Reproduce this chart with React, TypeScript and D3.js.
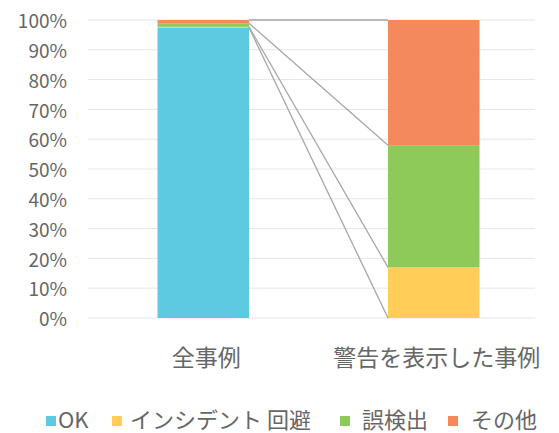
import React from "react";
import * as d3 from "d3";

const categories = ["全事例", "警告を表示した事例"];
const seriesNames = ["OK", "インシデント 回避", "誤検出", "その他"];
const okValues = [97.5, 0];
const avoidValues = [0.2, 17];
const falseValues = [1.2, 41];
const otherValues = [1.1, 42];
const yTicks = [0, 10, 20, 30, 40, 50, 60, 70, 80, 90, 100];
const colors = ["#5ECAE2", "#FFCD58", "#8DCA5A", "#F48A5C"];

const W = 559;
const H = 433;
const FONT = "'Noto Sans CJK JP', 'Noto Sans', sans-serif";

export default function App() {
  const seriesValues = [okValues, avoidValues, falseValues, otherValues];
  const rows = categories.map((c, i) => {
    const r: any = { cat: c };
    seriesNames.forEach((s, j) => (r[s] = seriesValues[j][i]));
    return r;
  });
  const stack = d3.stack<any>().keys(seriesNames)(rows);

  const x = d3
    .scaleBand<string>()
    .domain(categories)
    .range([88, 549])
    .paddingInner(0.603)
    .paddingOuter(0.3015);
  const y = d3.scaleLinear().domain([0, 100]).range([318, 20]);
  const gridX1 = 88;
  const gridX2 = 535;

  const x0 = x(categories[0])! + x.bandwidth();
  const x1 = x(categories[1])!;

  const legendX = [46, 112, 340, 448];
  const legendTextGap = [12, 18, 22, 23];

  return (
    <svg
      width={W}
      height={H}
      style={{ position: "absolute", left: 0, top: 0, background: "#fff" }}
      fontFamily={FONT}
    >
      {yTicks.map((t) => (
        <g key={t}>
          <line
            x1={gridX1}
            x2={gridX2}
            y1={y(t)}
            y2={y(t)}
            stroke="#e6e6e6"
            strokeWidth={1}
          />
          <text
            x={67}
            y={y(t) + 3}
            textAnchor="end"
            dominantBaseline="middle"
            fontSize={19}
            fill="#666"
          >
            {t}%
          </text>
        </g>
      ))}
      {stack.map((layer, j) =>
        layer.map((d, i) => (
          <rect
            key={`${j}-${i}`}
            x={x(categories[i])}
            width={x.bandwidth()}
            y={y(d[1])}
            height={Math.max(0, y(d[0]) - y(d[1]))}
            fill={colors[j]}
          />
        ))
      )}
      {stack.map((layer, j) => (
        <line
          key={`sl-${j}`}
          x1={x0}
          y1={y(layer[0][1])}
          x2={x1}
          y2={y(layer[1][1])}
          stroke="#a6a6a6"
          strokeWidth={1.3}
        />
      ))}
      {categories.map((c) => (
        <text
          key={c}
          x={x(c)! + x.bandwidth() / 2 + 3}
          y={360}
          textAnchor="middle"
          dominantBaseline="middle"
          fontSize={23}
          fill="#666"
        >
          {c}
        </text>
      ))}
      {seriesNames.map((s, j) => (
        <g key={s}>
          <rect x={legendX[j]} y={416} width={10} height={10} fill={colors[j]} />
          <text
            x={legendX[j] + legendTextGap[j]}
            y={422}
            dominantBaseline="middle"
            fontSize={22}
            fill="#666"
            style={{ whiteSpace: "pre" }}
          >
            {s}
          </text>
        </g>
      ))}
    </svg>
  );
}
